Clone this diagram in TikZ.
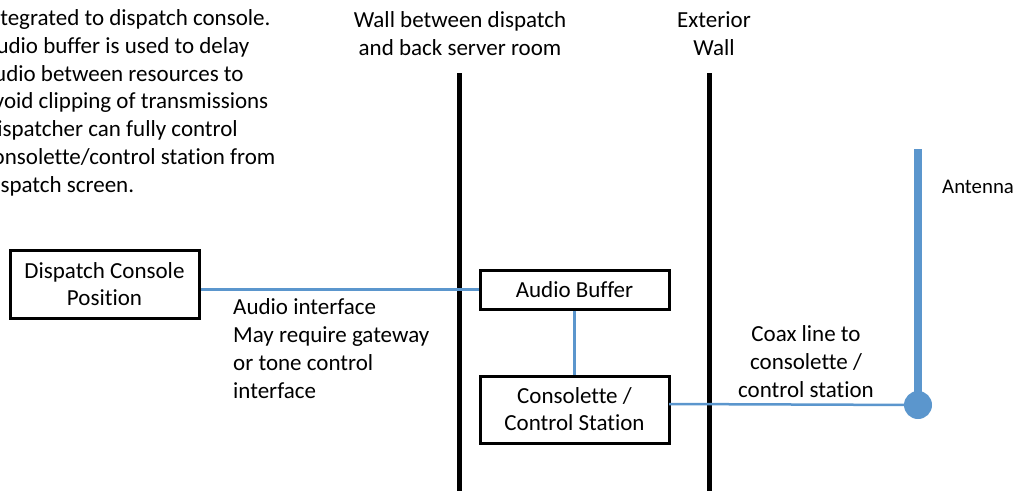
\documentclass[tikz,border=0pt]{standalone}
\usepackage{fontspec}
\setmainfont{Carlito}[Ligatures=NoCommon]
\definecolor{lnblue}{RGB}{91,150,205}
\begin{document}
\begin{tikzpicture}[x=1pt,y=-1pt,
  box/.style={draw=black, line width=3pt, minimum width=189pt, inner sep=0pt, align=center, font=\fontsize{23}{27}\selectfont},
  lbl/.style={inner sep=0pt, font=\fontsize{23}{27.7}\selectfont},
  wall/.style={line width=5pt, black},
  link/.style={draw=lnblue, line width=2.5pt}]
\useasboundingbox (0,0) rectangle (1025,491);
\begin{scope}
\clip (0,0) rectangle (1025,491);
\node[lbl, anchor=base west, align=left] (notes) at (-17,192) {integrated to dispatch console.\\Audio buffer is used to delay\\audio between resources to\\avoid clipping of transmissions\\Dispatcher can fully control\\consolette/control station from\\dispatch screen.};
\end{scope}
% walls
\node[lbl, anchor=base, align=center] (w1lbl) at (460,55) {Wall between dispatch\\and back server room};
\node[lbl, anchor=base, align=center] (w2lbl) at (714,55) {Exterior\\Wall};
\coordinate (w1t) at (459,73); \coordinate (w1b) at (459,491);
\coordinate (w2t) at (709,73); \coordinate (w2b) at (709,491);
\draw[wall] (w1t) -- (w1b);
\draw[wall] (w2t) -- (w2b);
% boxes
\node[box, minimum height=68pt] (dcp) at (104.5,284) {Dispatch Console\\Position};
\node[box, minimum height=39pt] (ab) at (574.5,289.5) {Audio Buffer};
\node[box, minimum height=67pt] (cs) at (574.5,409.5) {Consolette /\\Control Station};
% antenna
\coordinate (anttop) at (918,149);
\node[circle, fill=lnblue, minimum size=28pt, inner sep=0pt] (feed) at (918,405) {};
\draw[lnblue, line width=8pt] (anttop) -- (feed.center);
\node[inner sep=0pt, anchor=base west, font=\fontsize{20.8}{25}\selectfont] (antlbl) at (942,193) {Antenna};
% connectors
\draw[link] (ab.west) -- (ab.west -| dcp.east);
\draw[link] (ab.south) -- (cs.north);
\coordinate (csout) at (669,404);
\draw[link] (csout) -- (feed.center);
% labels
\node[lbl, anchor=base west, align=left] (ailbl) at (233,398) {Audio interface\\May require gateway\\or tone control\\interface};
\node[lbl, anchor=base, align=center] (coaxlbl) at (806,397) {Coax line to\\consolette /\\control station};
\end{tikzpicture}
\end{document}
